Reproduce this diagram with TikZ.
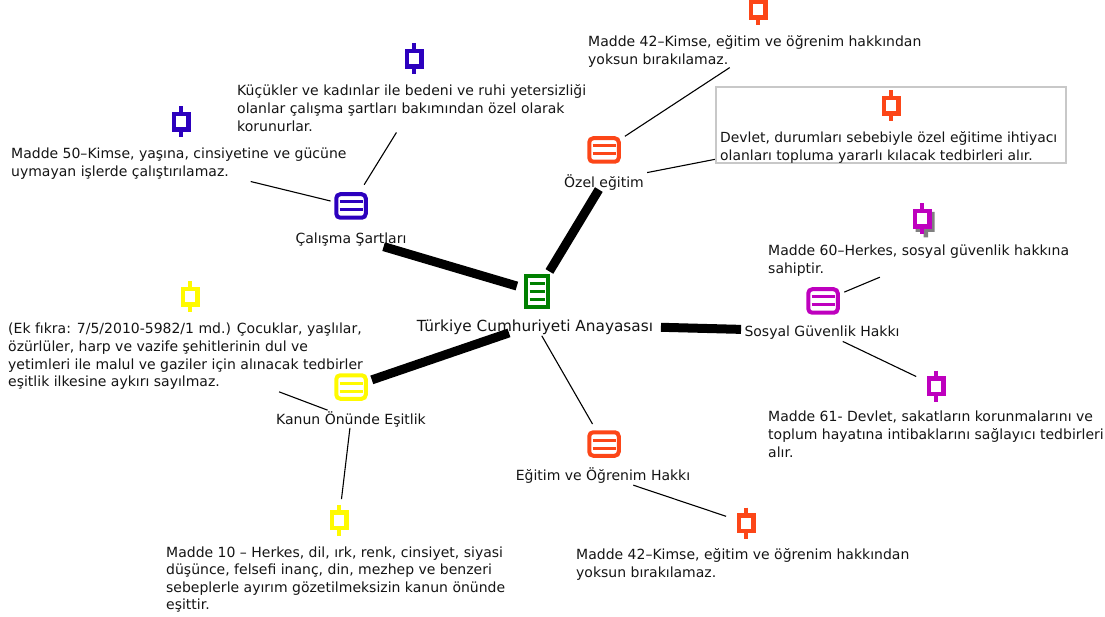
\documentclass[tikz,border=0pt]{standalone}
\usepackage{fontspec}
\setmainfont{DejaVu Sans}
\usetikzlibrary{calc}
\definecolor{cgreen}{RGB}{0,128,0}
\definecolor{corange}{RGB}{252,70,24}
\definecolor{cblue}{RGB}{44,0,190}
\definecolor{cpurple}{RGB}{190,0,190}
\definecolor{cyellow}{RGB}{255,250,0}
\definecolor{cbox}{RGB}{200,200,200}
\definecolor{ctext}{RGB}{20,20,20}
\tikzset{
  x=1pt,y=-1pt,
  txt/.style={font=\fontsize{14}{18}\selectfont,text=ctext,inner sep=0pt,align=left,anchor=north west},
  lbl/.style={font=\fontsize{14}{18}\selectfont,text=ctext,inner sep=0pt,text height=14pt,text depth=4pt},
  lowlbl/.style={lbl,text height=18pt},
  heavy/.style={line width=9pt,black},
  thin link/.style={line width=1.1pt,black},
}
% topic icon: rounded frame with two bars
\newcommand{\topicicon}[3]{%
  \node[draw=#3,line width=4pt,rounded corners=4pt,minimum width=29.5pt,minimum height=23.5pt,inner sep=0pt] (#1) at (#2) {};
  \draw[#3,line width=3pt] ($(#1.center)+(-11.5,-4)$) -- ($(#1.center)+(11.5,-4)$)
        ($(#1.center)+(-11.5,4)$) -- ($(#1.center)+(11.5,4)$);
}
% note pin: small frame with a stem above and below
\newcommand{\notepin}[3]{%
  \draw[#3,line width=4.5pt] ($(#2)+(0,-15.5)$) -- ($(#2)+(0,15.5)$);
  \node[draw=#3,fill=white,line width=4.5pt,minimum width=14.5pt,minimum height=15.5pt,inner sep=0pt] (#1) at (#2) {};
}
\begin{document}
\begin{tikzpicture}
\useasboundingbox (0,0) rectangle (1105,617);
% main document icon
\node[draw=cgreen,line width=4pt,minimum width=22pt,minimum height=31pt,inner sep=0pt] (hub) at (537,292) {};
\foreach \yy in {-8,0,8}{\draw[cgreen,line width=3pt] ($(hub.center)+(-7.5,\yy)$) -- ($(hub.center)+(7.5,\yy)$);}
\node[lowlbl,font=\fontsize{15.3}{18}\selectfont] (hublabel) at (535,324) {Türkiye Cumhuriyeti Anayasası};
% topics
\topicicon{ozelicon}{604,150}{corange}
\node[lowlbl] (ozel) at (604,181) {Özel eğitim};
\topicicon{calicon}{351,206}{cblue}
\node[lowlbl] (cal) at (351,237) {Çalışma Şartları};
\topicicon{sosicon}{823,301}{cpurple}
\node[lbl] (sos) at (822,331.5) {Sosyal Güvenlik Hakkı};
\topicicon{kanicon}{351,387}{cyellow}
\node[lbl] (kan) at (351,419) {Kanun Önünde Eşitlik};
\topicicon{egiicon}{604,444}{corange}
\node[lbl] (egi) at (603,475) {Eğitim ve Öğrenim Hakkı};
% note box
\node[draw=cbox,line width=1.2pt,minimum width=350pt,minimum height=76pt,inner sep=0pt] (devletbox) at (891,125) {};
% pins
\notepin{p1}{758,10}{corange}
\notepin{p2}{414,59}{cblue}
\notepin{p3}{181,122}{cblue}
\notepin{p4}{891,106}{corange}
\fill[gray] (915.5,212) rectangle (934.5,232) (923.5,232) rectangle (928,237.5);
\notepin{p5}{922,219}{cpurple}
\notepin{p6}{936,386}{cpurple}
\notepin{p7}{190,297}{cyellow}
\notepin{p8}{339,520}{cyellow}
\notepin{p9}{746,523}{corange}
% notes
\node[txt] (t1) at (588,35) {Madde 42–Kimse, eğitim ve öğrenim hakkından\\yoksun bırakılamaz.};
\node[txt] (t2) at (237,84) {Küçükler ve kadınlar ile bedeni ve ruhi yetersizliği\\olanlar çalışma şartları bakımından özel olarak\\korunurlar.};
\node[txt] (t3) at (11,148) {Madde 50–Kimse, yaşına, cinsiyetine ve gücüne\\uymayan işlerde çalıştırılamaz.};
\node[txt,font=\fontsize{13.9}{18}\selectfont] (t4) at (720,131.5) {Devlet, durumları sebebiyle özel eğitime ihtiyacı\\olanları topluma yararlı kılacak tedbirleri alır.};
\node[txt] (t5) at (768,245) {Madde 60–Herkes, sosyal güvenlik hakkına\\sahiptir.};
\node[txt] (t6) at (768,411) {Madde 61- Devlet, sakatların korunmalarını ve\\toplum hayatına intibaklarını sağlayıcı tedbirleri\\alır.};
\node[txt,font=\fontsize{14}{17.7}\selectfont] (t7) at (8,323) {(Ek fıkra: 7/5/2010-5982/1 md.) Çocuklar, yaşlılar,\\özürlüler, harp ve vazife şehitlerinin dul ve\\yetimleri ile malul ve gaziler için alınacak tedbirler\\eşitlik ilkesine aykırı sayılmaz.};
\node[txt,font=\fontsize{14}{17.5}\selectfont] (t8) at (166,546.5) {Madde 10 – Herkes, dil, ırk, renk, cinsiyet, siyasi\\düşünce, felsefi inanç, din, mezhep ve benzeri\\sebeplerle ayırım gözetilmeksizin kanun önünde\\eşittir.};
\node[txt] (t9) at (576,548) {Madde 42–Kimse, eğitim ve öğrenim hakkından\\yoksun bırakılamaz.};
% heavy connectors
\draw[heavy,shorten <=34pt,shorten >=21pt] (cal.center) -- (hub.center);
\draw[heavy,shorten <=10pt,shorten >=24pt] (ozel.center) -- (hub.center);
\draw[heavy,shorten <=126pt,shorten >=81pt] (hublabel.center) -- (sos.center);
\draw[heavy,shorten <=27.5pt,shorten >=22pt] (hublabel.center) -- (kanicon.center);
% thin connectors
\draw[thin link,shorten <=13.6pt,shorten >=23pt] (hublabel.center) -- (egiicon.center);
\draw[thin link,shorten <=25pt,shorten >=30pt] (ozelicon.center) -- (t1.center);
\draw[thin link,shorten <=44pt,shorten >=179.5pt] (ozel.center) -- (devletbox.center);
\draw[thin link,shorten <=25pt,shorten >=29pt] (calicon.center) -- (t2.center);
\draw[thin link,shorten <=74pt,shorten >=21pt] (t3.center) -- (calicon.center);
\draw[thin link,shorten <=23pt,shorten >=42pt] (sosicon.center) -- (t5.center);
\draw[thin link,shorten <=23pt,shorten >=22pt] (sos.center) -- (p6.center);
\draw[thin link,shorten <=100pt,shorten >=25pt] (t7.center) -- (kan.center);
\draw[thin link,shorten <=9pt,shorten >=21pt] (kan.center) -- (p8.center);
\draw[thin link,shorten <=32pt,shorten >=21pt] (egi.center) -- (p9.center);
\end{tikzpicture}
\end{document}
